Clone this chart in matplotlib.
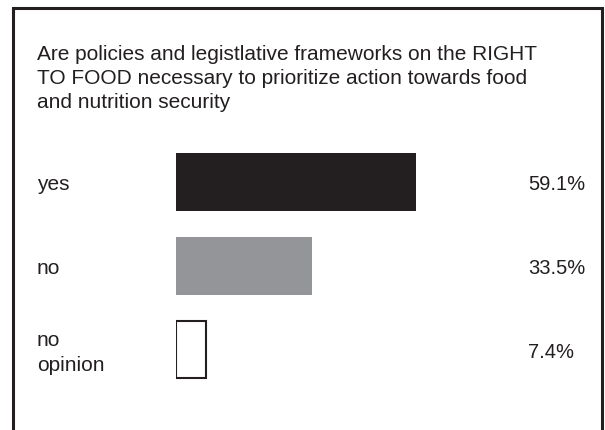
import matplotlib
matplotlib.use("Agg")
import matplotlib.pyplot as plt
from matplotlib.patches import Rectangle
from matplotlib.transforms import blended_transform_factory, ScaledTranslation

title_lines = ["Are policies and legistlative frameworks on the RIGHT",
               "TO FOOD necessary to prioritize action towards food",
               "and nutrition security"]
categories = ["yes", "no", "no\nopinion"]
values = [59.1, 33.5, 7.4]
value_labels = ["59.1%", "33.5%", "7.4%"]
colors = ["#231f20", "#939598", "#ffffff"]

W, H = 605, 431
fig = plt.figure(figsize=(W / 100, H / 100), dpi=100)
plt.rcParams['font.family'] = ['Liberation Sans', 'DejaVu Sans']
txtc = "#231f20"

# frame
fig.patches.append(Rectangle((12.5 / W, -0.1), (602 - 12.5) / W, 1.1 - 8.5 / H,
                             transform=fig.transFigure, fill=False,
                             edgecolor=txtc, linewidth=2.2))

for i, line in enumerate(title_lines):
    fig.text(37 / W, 1 - (60 + 24 * i) / H, line, ha="left", va="baseline",
             fontsize=15, color=txtc)

# axes: x=0 at px 176, 4.06 px per percent
left_px, ppp = 176, 4.06
ax = fig.add_axes([left_px / W, 1 - 392.4 / H, 100 * ppp / W, (392.4 - 141.1) / H])
ax.set_xlim(0, 100)
ax.set_ylim(2.5, -0.5)
ax.axis("off")
ypos = list(range(len(categories)))
ax.barh(ypos, values, height=0.69, color=colors, edgecolor=[colors[0], colors[1], txtc],
        linewidth=[0, 0, 1.5])

tr_lbl = blended_transform_factory(fig.transFigure, ax.transData)
for y, c, v in zip(ypos, categories, value_labels):
    parts = c.split("\n")
    n = len(parts)
    for j, p in enumerate(parts):
        # baseline offset in pixels relative to bar centre
        off = 7.5 + (j - (n - 1) / 2) * 25
        t = tr_lbl + ScaledTranslation(0, -off / 100, fig.dpi_scale_trans)
        ax.text(37 / W, y, p, transform=t, ha="left", va="baseline", fontsize=15,
                color=txtc)
    t = tr_lbl + ScaledTranslation(0, -7.5 / 100, fig.dpi_scale_trans)
    ax.text(528 / W, y, v, transform=t, ha="left", va="baseline", fontsize=14.5,
            color=txtc)

fig.savefig("out.png", dpi=100)
